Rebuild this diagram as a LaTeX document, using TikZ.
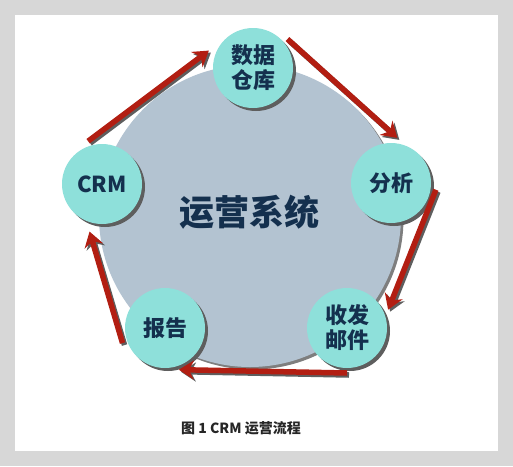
\documentclass[tikz,border=0pt]{standalone}
\usepackage{fontspec}
\newfontfamily\cjk{Noto Sans CJK SC}
\usetikzlibrary{arrows.meta}
\definecolor{bordergray}{HTML}{D7D7D7}
\definecolor{bigblue}{HTML}{B3C3D1}
\definecolor{cyanc}{HTML}{8EE0DA}
\definecolor{navy}{HTML}{14304E}
\definecolor{arrred}{HTML}{B21E12}
\definecolor{shadowgray}{HTML}{5E5E5E}
\begin{document}
\begin{tikzpicture}[x=1pt,y=-1pt,
  stage/.style={circle, fill=cyanc, minimum size=80pt, inner sep=0pt, outer sep=5pt,
    font=\cjk\bfseries\fontsize{22}{25}\selectfont, text=navy, align=center},
  arr/.style={draw=arrred, line width=5.5pt, -{Stealth[length=15pt,width=19pt,inset=5pt]}},
  arrsh/.style={draw=shadowgray, line width=5.5pt, -{Stealth[length=15pt,width=19pt,inset=5pt]},
    transform canvas={xshift=2pt,yshift=-2pt}}
]
\useasboundingbox (0,0) rectangle (513,466);
\fill[bordergray] (0,0) rectangle (513,466);
\fill[white] (15,15) rectangle (498,451);

% big circle
\fill[shadowgray!80] (252.5,218.5) circle (151pt);
\node[circle, fill=bigblue, minimum size=302pt, inner sep=0pt] (sys) at (250,216) {};
\node[font=\cjk\bfseries\fontsize{35}{40}\selectfont, text=navy] (systxt) at (249,212) {运营系统};

% stage shadows
\fill[shadowgray] (256,71) circle (40pt);
\fill[shadowgray] (394,186) circle (40pt);
\fill[shadowgray] (350,331) circle (40pt);
\fill[shadowgray] (168,331) circle (40pt);
\fill[shadowgray] (105,187) circle (40pt);

% stages
\node[stage] (db) at (253,68) {数据\\仓库};
\node[stage] (an) at (391,183) {分析};
\node[stage] (mail) at (347,328) {收发\\邮件};
\node[stage] (rep) at (165,328) {报告};
\node[stage] (crm) at (102,184) {CRM};

% arrows
\draw[arrsh, shorten >=5pt] (crm.108) -- (db.153);
\draw[arr, shorten >=5pt] (crm.108) -- (db.153);
\draw[arrsh, shorten >=1pt] (db.40) -- (an.81);
\draw[arr, shorten >=1pt] (db.40) -- (an.81);
\draw[arrsh, shorten <=-2pt] (an.-11) -- (mail.24);
\draw[arr, shorten <=-2pt] (an.-11) -- (mail.24);
\draw[arrsh, shorten >=-3pt] (mail.-90) -- (rep.-68);
\draw[arr, shorten >=-3pt] (mail.-90) -- (rep.-68);
\draw[arrsh, shorten <=-2pt, shorten >=5pt] (rep.197) -- (crm.252);
\draw[arr, shorten <=-2pt, shorten >=5pt] (rep.197) -- (crm.252);

% caption
\node[font=\cjk\bfseries\fontsize{14}{16}\selectfont, text=black!85] (cap) at (241,428) {图 1 CRM 运营流程};
\end{tikzpicture}
\end{document}
